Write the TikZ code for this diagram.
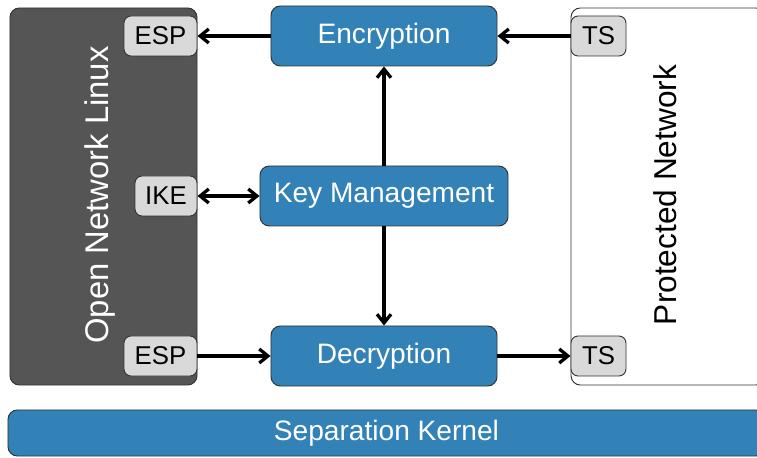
\documentclass[tikz,border=0pt]{standalone}
\usepackage{fontspec}
\setmainfont{Liberation Sans}
\usetikzlibrary{arrows.meta, calc}
\definecolor{kblue}{RGB}{50,130,184}
\definecolor{kdark}{RGB}{85,85,85}
\definecolor{kport}{RGB}{217,217,217}

\begin{document}
\begin{tikzpicture}[x=0.03cm, y=-0.03cm, >={Straight Barb[length=2.6mm, width=4.2mm]},
  every node/.style={font=\fontsize{24}{28}\selectfont, inner sep=0pt},
  zonebox/.style={draw=black!80, line width=0.8pt, rounded corners=8pt},
  block/.style={draw=black!80, line width=0.8pt, rounded corners=8pt, fill=kblue, text=white, minimum height=1.8cm},
  port/.style={draw=black!80, line width=0.8pt, rounded corners=6pt, fill=kport, minimum height=1.2cm, font=\fontsize{22}{26}\selectfont},
  link/.style={line width=2.8pt}]
  \useasboundingbox (0,0) rectangle (757,458);
  % zones
  \node[zonebox, fill=kdark, minimum width=5.61cm, minimum height=11.31cm] (linux) at (103.5,196.5) {};
  \node[zonebox, fill=white, minimum width=5.82cm, minimum height=11.31cm] (protnet) at (668,196.5) {};
  \node[rotate=90, text=white, font=\fontsize{28}{32}\selectfont] (linuxlabel) at (100,195) {Open Network Linux};
  \node[rotate=90, font=\fontsize{27}{31}\selectfont] (protlabel) at (665,195) {Protected Network};
  \node[block, minimum width=22.71cm, minimum height=1.38cm] (kernel) at (386.5,433) {Separation Kernel};
  % crypto blocks
  \node[block, minimum width=6.78cm] (encrypt) at (384,36) {Encryption};
  \node[block, minimum width=7.44cm] (keymgmt) at (384,196) {Key Management};
  \node[block, minimum width=6.78cm] (decrypt) at (384,356) {Decryption};
  % ports
  \node[port, minimum width=2.19cm] (esptop) at (160.5,36) {ESP};
  \node[port, minimum width=1.86cm] (ike) at (166,196) {IKE};
  \node[port, minimum width=2.19cm] (espbot) at (160.5,356) {ESP};
  \node[port, minimum width=1.65cm] (tstop) at (598.5,36) {TS};
  \node[port, minimum width=1.65cm] (tsbot) at (598.5,356) {TS};
  % links
  \draw[link, ->] (encrypt.west) -- (esptop.east);
  \draw[link, ->] (tstop.west) -- (encrypt.east);
  \draw[link, <->] (ike.east) -- (keymgmt.west);
  \draw[link, ->] (keymgmt.north) -- (encrypt.south);
  \draw[link, ->] (keymgmt.south) -- (decrypt.north);
  \draw[link, ->] (espbot.east) -- (decrypt.west);
  \draw[link, ->] (decrypt.east) -- (tsbot.west);
\end{tikzpicture}
\end{document}
